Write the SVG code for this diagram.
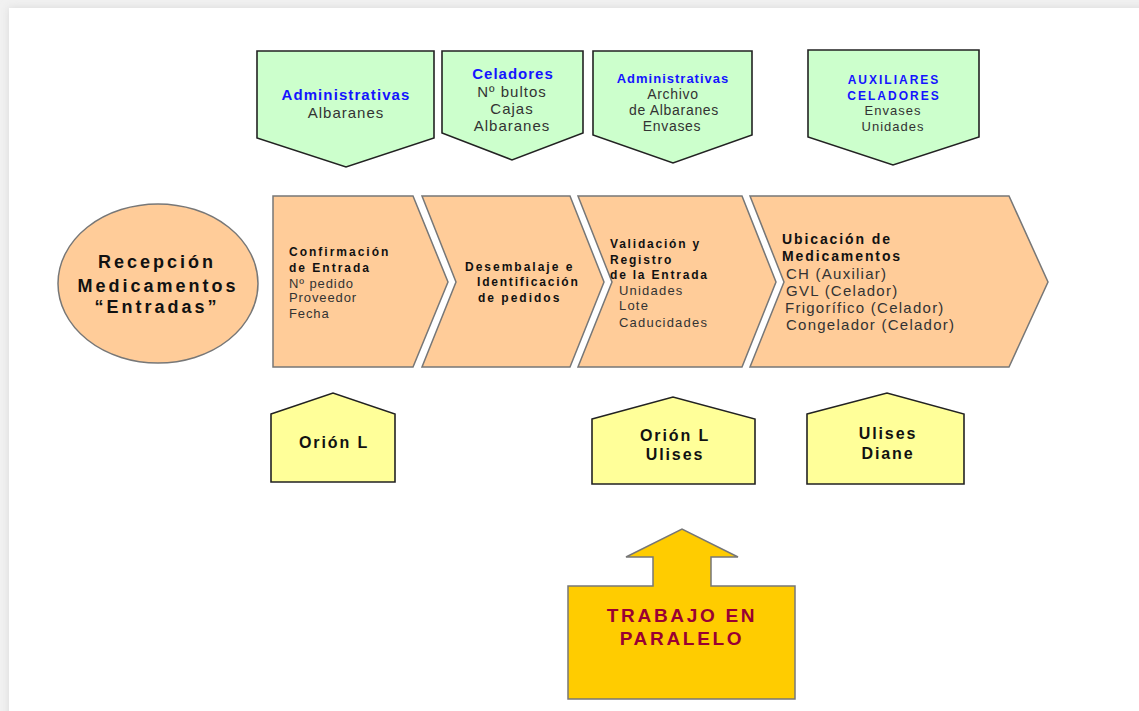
<svg xmlns="http://www.w3.org/2000/svg" width="1139" height="711" viewBox="0 0 1139 711">
<style>
  text { font-family: "Liberation Sans", Arial, sans-serif; }
  .green { fill: #CCFFCC; stroke: #222; stroke-width: 1.6; }
  .orange { fill: #FFCC99; stroke: #777; stroke-width: 1.5; }
  .yellow { fill: #FFFF99; stroke: #222; stroke-width: 1.6; }
  .gold { fill: #FFCC00; stroke: #777; stroke-width: 1.5; }
  .blue { fill: #1414FF; font-weight: bold; }
  .body { fill: #333; }
  .bold { fill: #111; font-weight: bold; }
  .mid { text-anchor: middle; }
  .maroon { fill: #990033; font-weight: bold; font-size: 19px; letter-spacing: 2.7px; text-anchor: middle; }
</style>
<defs>
  <filter id="sh" x="-5%" y="-5%" width="110%" height="110%">
    <feGaussianBlur stdDeviation="4"/>
  </filter>
</defs>
<rect x="0" y="0" width="1139" height="711" fill="#f1f1f1"/>
<rect x="9" y="8" width="1140" height="720" fill="#d8d8d8" filter="url(#sh)"/>
<rect x="9" y="8" width="1140" height="720" fill="#ffffff"/>

<g id="connectors"></g>

<g id="top-administrativas">
  <polygon class="green" points="257,51 434,51 434,138 346,167 257,138"/>
  <text class="blue mid" x="346" y="100" font-size="15" letter-spacing="1.1">Administrativas</text>
  <text class="body mid" x="346" y="118" font-size="15" letter-spacing="1">Albaranes</text>
</g>
<g id="top-celadores">
  <polygon class="green" points="442,51 583,51 583,133 512,160 442,133"/>
  <text class="blue mid" x="513" y="79" font-size="15" letter-spacing="1">Celadores</text>
  <text class="body mid" x="512" y="97" font-size="15" letter-spacing="1">Nº bultos</text>
  <text class="body mid" x="512" y="114" font-size="15" letter-spacing="1">Cajas</text>
  <text class="body mid" x="512" y="131" font-size="15" letter-spacing="1">Albaranes</text>
</g>
<g id="top-administrativas-2">
  <polygon class="green" points="593,51 752,51 752,135 673,163 593,135"/>
  <text class="blue mid" x="673" y="83" font-size="13" letter-spacing="1">Administrativas</text>
  <text class="body mid" x="673" y="99" font-size="14" letter-spacing="0.7">Archivo</text>
  <text class="body mid" x="674" y="115" font-size="14" letter-spacing="0.7">de Albaranes</text>
  <text class="body mid" x="672" y="131" font-size="14" letter-spacing="0.7">Envases</text>
</g>
<g id="top-auxiliares">
  <polygon class="green" points="808,50 979,50 979,137 893,165 808,137"/>
  <text class="blue mid" x="894" y="84" font-size="12" letter-spacing="2">AUXILIARES</text>
  <text class="blue mid" x="894" y="100" font-size="12" letter-spacing="2">CELADORES</text>
  <text class="body mid" x="893" y="115" font-size="13" letter-spacing="1">Envases</text>
  <text class="body mid" x="893" y="131" font-size="13" letter-spacing="1">Unidades</text>
</g>

<g id="recepcion">
  <ellipse class="orange" cx="158" cy="283.5" rx="100" ry="79.5"/>
  <text class="bold mid" x="157" y="268" font-size="18" letter-spacing="3">Recepción</text>
  <text class="bold mid" x="158" y="292" font-size="18" letter-spacing="3">Medicamentos</text>
  <text class="bold mid" x="157" y="313" font-size="18" letter-spacing="3">“Entradas”</text>
</g>

<g id="confirmacion">
  <polygon class="orange" points="273,196 413,196 448,282 413,367 273,367"/>
  <text class="bold" x="289" y="256" font-size="12" letter-spacing="2">Confirmación</text>
  <text class="bold" x="289" y="272" font-size="12" letter-spacing="2">de Entrada</text>
  <text class="body" x="289" y="288" font-size="13" letter-spacing="0.9">Nº pedido</text>
  <text class="body" x="289" y="302" font-size="13" letter-spacing="0.9">Proveedor</text>
  <text class="body" x="289" y="318" font-size="13" letter-spacing="0.9">Fecha</text>
</g>
<g id="desembalaje">
  <polygon class="orange" points="422,196 570,196 604,282 570,367 422,367 456,282"/>
  <text class="bold" x="465" y="271" font-size="12" letter-spacing="2">Desembalaje e</text>
  <text class="bold" x="477" y="286" font-size="12" letter-spacing="1.8">Identificación</text>
  <text class="bold" x="478" y="302" font-size="12" letter-spacing="2">de pedidos</text>
</g>
<g id="validacion">
  <polygon class="orange" points="578,196 742,196 776,282 742,367 578,367 612,282"/>
  <text class="bold" x="610" y="248" font-size="12" letter-spacing="1.8">Validación y</text>
  <text class="bold" x="610" y="264" font-size="12" letter-spacing="1.8">Registro</text>
  <text class="bold" x="610" y="279" font-size="12" letter-spacing="1.8">de la Entrada</text>
  <text class="body" x="619" y="295" font-size="13" letter-spacing="1.2">Unidades</text>
  <text class="body" x="619" y="310" font-size="13" letter-spacing="1.2">Lote</text>
  <text class="body" x="619" y="327" font-size="13" letter-spacing="1.2">Caducidades</text>
</g>
<g id="ubicacion">
  <polygon class="orange" points="750,196 1009,196 1048,282 1009,367 750,367 784,282"/>
  <text class="bold" x="782" y="244" font-size="14" letter-spacing="1.9">Ubicación de</text>
  <text class="bold" x="782" y="261" font-size="14" letter-spacing="1.9">Medicamentos</text>
  <text class="body" x="786" y="279" font-size="15" letter-spacing="1.25">CH (Auxiliar)</text>
  <text class="body" x="786" y="296" font-size="15" letter-spacing="1.25">GVL (Celador)</text>
  <text class="body" x="785" y="313" font-size="15" letter-spacing="1.25">Frigorífico (Celador)</text>
  <text class="body" x="786" y="330" font-size="15" letter-spacing="1.25">Congelador (Celador)</text>
</g>

<g id="orion">
  <polygon class="yellow" points="271,414 333,393 395,414 395,482 271,482"/>
  <text class="bold mid" x="334" y="448" font-size="16" letter-spacing="1.9">Orión L</text>
</g>
<g id="orion-ulises">
  <polygon class="yellow" points="592,419 673,397 755,419 755,484 592,484"/>
  <text class="bold mid" x="675" y="441" font-size="16" letter-spacing="1.9">Orión L</text>
  <text class="bold mid" x="675" y="460" font-size="16" letter-spacing="1.9">Ulises</text>
</g>
<g id="ulises-diane">
  <polygon class="yellow" points="807,414 887,393 964,414 964,484 807,484"/>
  <text class="bold mid" x="888" y="439" font-size="16" letter-spacing="1.9">Ulises</text>
  <text class="bold mid" x="888" y="459" font-size="16" letter-spacing="1.9">Diane</text>
</g>

<g id="trabajo-paralelo">
  <polygon class="gold" points="568,586 653,586 653,557 626,557 682,529 738,557 711,557 711,586 795,586 795,699 568,699"/>
  <text class="maroon" x="682" y="622">TRABAJO EN</text>
  <text class="maroon" x="682" y="645">PARALELO</text>
</g>
</svg>
